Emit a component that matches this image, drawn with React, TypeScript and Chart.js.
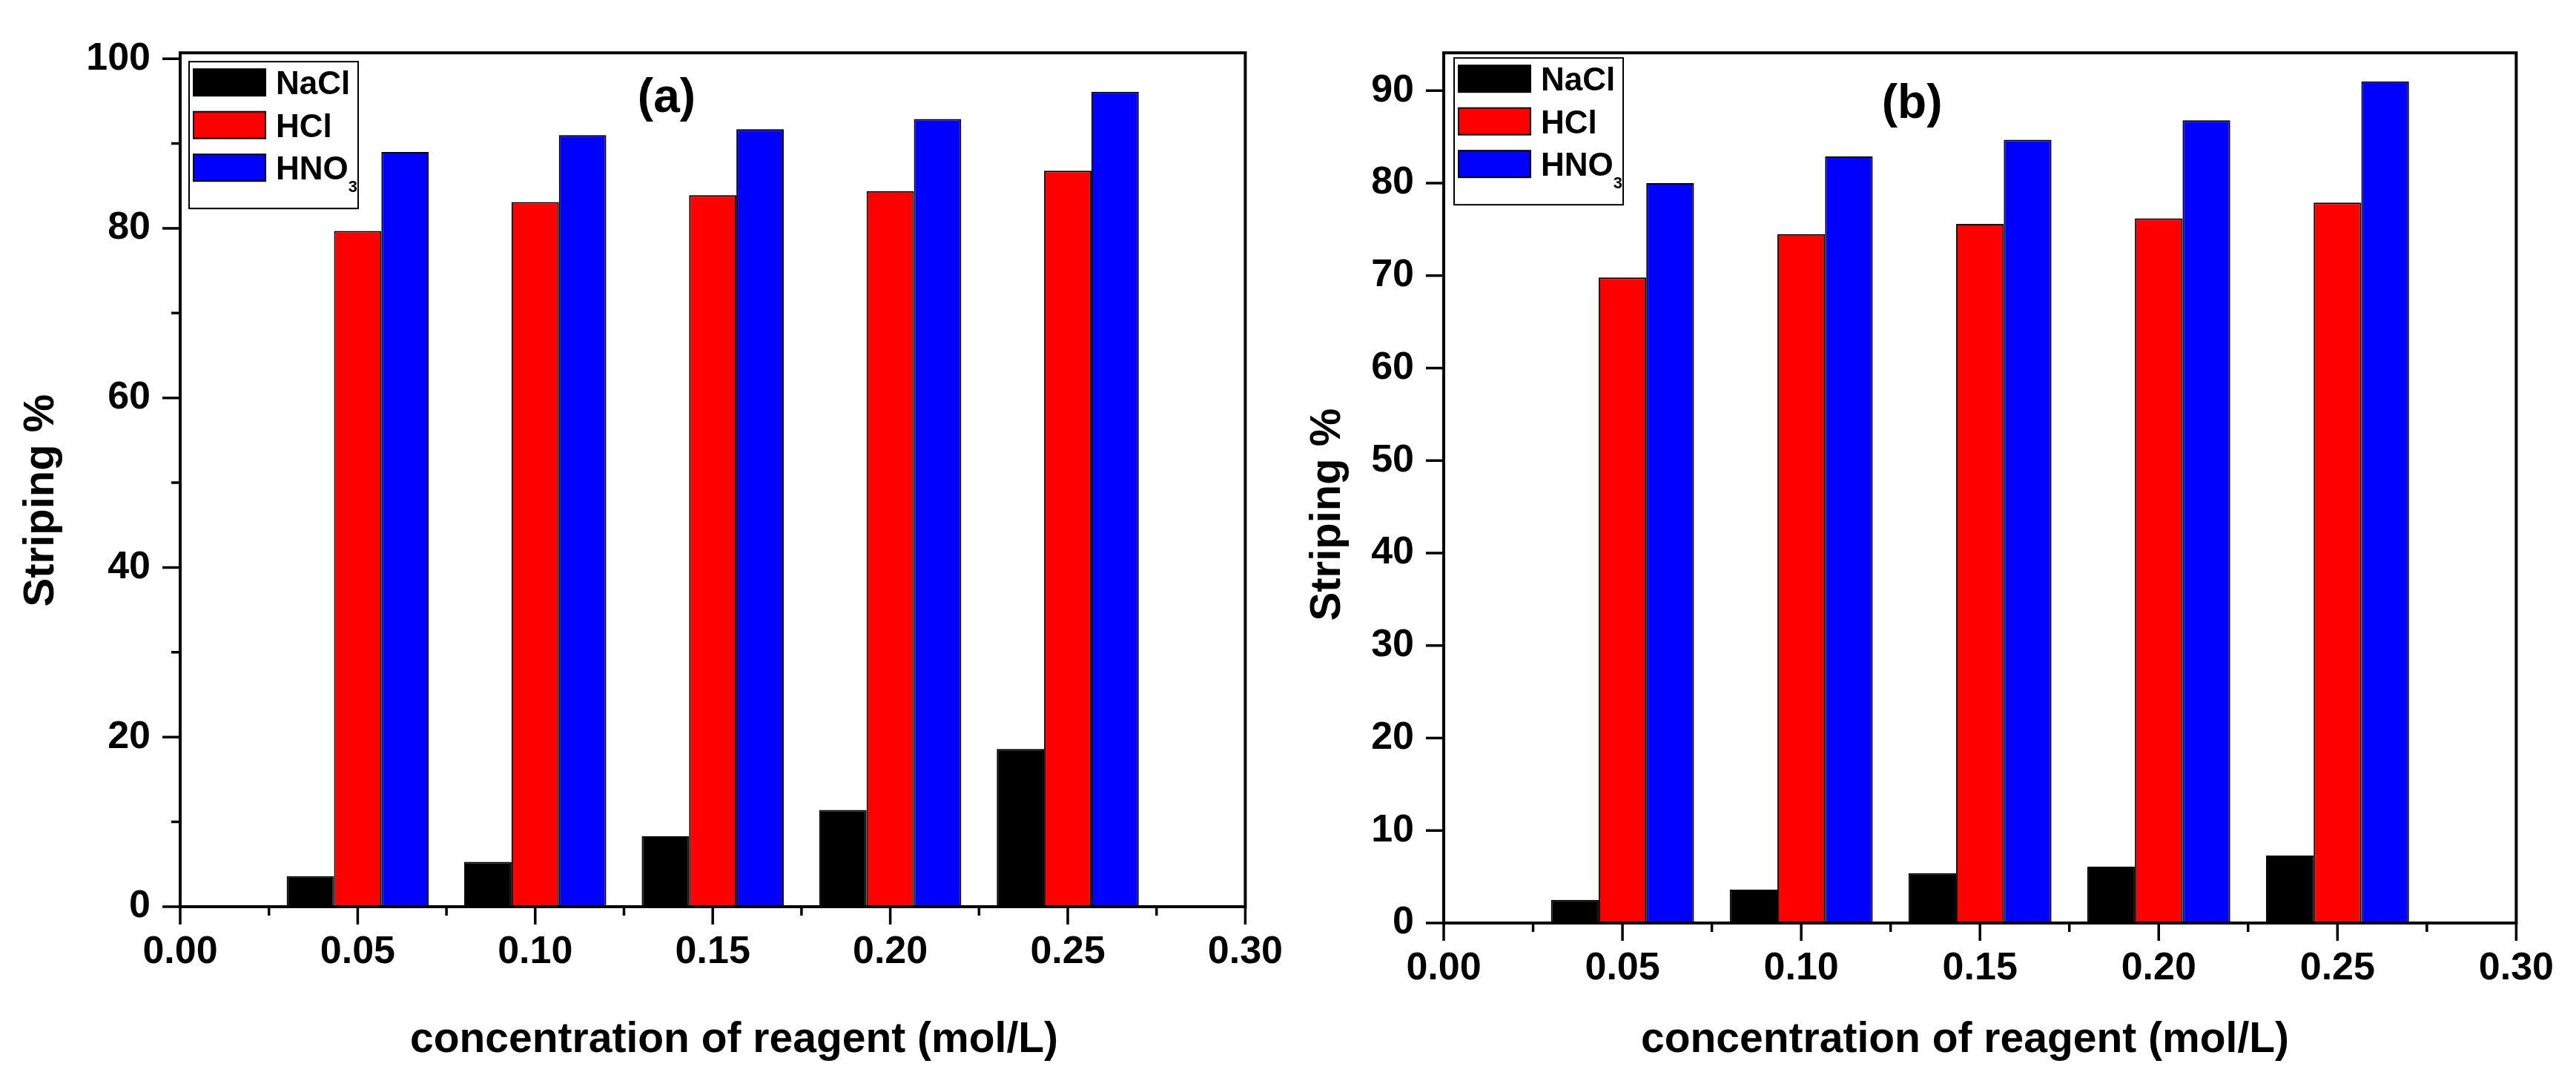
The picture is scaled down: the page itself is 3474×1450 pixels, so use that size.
import React, { useEffect, useRef } from "react";
import { Chart, registerables } from "chart.js";

Chart.register(...registerables);

// ---------- data ----------
const concentrations = [0.05, 0.1, 0.15, 0.2, 0.25];
const seriesNames = ["NaCl", "HCl", "HNO3"];
const seriesColors = ["#000000", "#ff0000", "#0000ff"];

const naclA = [3.6, 5.3, 8.3, 11.4, 18.6];
const hclA = [79.7, 83.1, 83.9, 84.4, 86.8];
const hno3A = [89.0, 91.0, 91.7, 92.9, 96.1];

const naclB = [2.5, 3.6, 5.4, 6.1, 7.3];
const hclB = [69.8, 74.5, 75.6, 76.2, 77.9];
const hno3B = [80.0, 82.9, 84.7, 86.8, 91.0];

const panelLabels = ["(a)", "(b)"];
const yAxisTitle = "Striping %";
const xAxisTitle = "concentration of reagent (mol/L)";

const FONT = "'Liberation Sans', Arial, Helvetica, sans-serif";

type PanelCfg = {
  canvasLeft: number;
  canvasWidth: number;
  series: number[][];
  yMax: number;
  yStep: number;
  yLabelStep: number;
  padding: { left: number; right: number; top: number; bottom: number };
  label: string;
  labelAt: [number, number];
  legendOffset: [number, number];
  yTitleX: number;
  yTitleY: number;
  xTitleX: number;
  xTitleY: number;
};

const panels: PanelCfg[] = [
  {
    canvasLeft: 0,
    canvasWidth: 1760,
    series: [naclA, hclA, hno3A],
    yMax: 100.7,
    yStep: 10,
    yLabelStep: 20,
    padding: { left: 93, right: 71, top: 45, bottom: 127 },
    label: panelLabels[0],
    labelAt: [0.137, 95.3],
    legendOffset: [12, 12],
    yTitleX: 72,
    yTitleY: 675,
    xTitleX: 990,
    xTitleY: 1419,
  },
  {
    canvasLeft: 1760,
    canvasWidth: 1714,
    series: [naclB, hclB, hno3B],
    yMax: 94.1,
    yStep: 5,
    yLabelStep: 10,
    padding: { left: 37, right: 77, top: 62, bottom: 105 },
    label: panelLabels[1],
    labelAt: [0.131, 88.5],
    legendOffset: [14, 7],
    yTitleX: 47,
    yTitleY: 694,
    xTitleX: 890,
    xTitleY: 1419,
  },
];

const isMultiple = (v: number, step: number) =>
  Math.abs(v / step - Math.round(v / step)) < 1e-6;

const originPlugin = {
  id: "originFrame",
  afterDatasetsDraw(chart: any, _args: any, opts: any) {
    const { ctx, chartArea: ca } = chart;
    const xs = chart.scales.x;
    const ys = chart.scales.y;
    ctx.save();
    ctx.strokeStyle = "#000";
    ctx.lineWidth = 4;
    ctx.beginPath();
    ctx.rect(ca.left, ca.top, ca.right - ca.left, ca.bottom - ca.top);
    ctx.stroke();

    ctx.lineWidth = 3.5;
    ctx.beginPath();
    ys.ticks.forEach((t: any) => {
      const py = ys.getPixelForValue(t.value);
      const len = isMultiple(t.value, opts.yLabelStep) ? 24 : 12;
      ctx.moveTo(ca.left - len, py);
      ctx.lineTo(ca.left, py);
    });
    const xv: number[] = xs.ticks.map((t: any) => t.value);
    xv.forEach((v) => {
      const px = xs.getPixelForValue(v);
      ctx.moveTo(px, ca.bottom);
      ctx.lineTo(px, ca.bottom + 24);
    });
    for (let i = 0; i < xv.length - 1; i++) {
      const px = xs.getPixelForValue((xv[i] + xv[i + 1]) / 2);
      ctx.moveTo(px, ca.bottom);
      ctx.lineTo(px, ca.bottom + 12);
    }
    ctx.stroke();
    ctx.restore();
  },
  afterDraw(chart: any, _args: any, opts: any) {
    const { ctx, chartArea: ca } = chart;
    const xs = chart.scales.x;
    const ys = chart.scales.y;
    ctx.save();

    // legend
    const bx = ca.left + opts.legendOffset[0];
    const by = ca.top + opts.legendOffset[1];
    const bw = 228;
    const bh = 198;
    ctx.fillStyle = "#fff";
    ctx.fillRect(bx, by, bw, bh);
    ctx.strokeStyle = "#000";
    ctx.lineWidth = 2;
    ctx.strokeRect(bx, by, bw, bh);
    chart.data.datasets.forEach((ds: any, i: number) => {
      const sy = by + 10 + i * 57.5;
      ctx.fillStyle = ds.backgroundColor;
      ctx.fillRect(bx + 6, sy, 97, 36);
      ctx.lineWidth = 2;
      ctx.strokeRect(bx + 6, sy, 97, 36);
      const cy = sy + 18;
      ctx.fillStyle = "#000";
      ctx.textAlign = "left";
      ctx.textBaseline = "alphabetic";
      ctx.font = `bold 44px ${FONT}`;
      const m = /^(.*?)(\d+)$/.exec(ds.label);
      const base = m ? m[1] : ds.label;
      const tx = bx + 117;
      const baseY = cy + 16;
      ctx.fillText(base, tx, baseY);
      if (m) {
        const w = ctx.measureText(base).width;
        ctx.font = `bold 22px ${FONT}`;
        ctx.fillText(m[2], tx + w, baseY + 17);
      }
    });

    // panel label
    ctx.fillStyle = "#000";
    ctx.font = `bold 64px ${FONT}`;
    ctx.textAlign = "center";
    ctx.textBaseline = "middle";
    ctx.fillText(
      opts.label,
      xs.getPixelForValue(opts.labelAt[0]),
      ys.getPixelForValue(opts.labelAt[1])
    );

    // axis titles
    ctx.font = `bold 57px ${FONT}`;
    ctx.textBaseline = "alphabetic";
    ctx.textAlign = "center";
    ctx.fillText(xAxisTitle, opts.xTitleX, opts.xTitleY);

    ctx.font = `bold 58px ${FONT}`;
    ctx.translate(opts.yTitleX, opts.yTitleY);
    ctx.rotate(-Math.PI / 2);
    ctx.fillText(yAxisTitle, 0, 0);
    ctx.restore();
  },
};

function buildConfig(p: PanelCfg): any {
  const tickFont = { family: FONT, size: 52, weight: "bold" as const };
  return {
    type: "bar",
    data: {
      datasets: seriesNames.map((name, i) => ({
        label: name,
        data: concentrations.map((c, j) => ({ x: c, y: p.series[i][j] })),
        backgroundColor: seriesColors[i],
        borderColor: "#000000",
        borderWidth: 2,
        categoryPercentage: 0.8,
        barPercentage: 1.0,
      })),
    },
    options: {
      animation: false,
      responsive: false,
      events: [],
      layout: { padding: p.padding },
      plugins: {
        legend: { display: false },
        tooltip: { enabled: false },
        originFrame: {
          yLabelStep: p.yLabelStep,
          label: p.label,
          labelAt: p.labelAt,
          legendOffset: p.legendOffset,
          yTitleX: p.yTitleX,
          yTitleY: p.yTitleY,
          xTitleX: p.xTitleX,
          xTitleY: p.xTitleY,
        },
      },
      scales: {
        x: {
          type: "linear",
          min: 0,
          max: 0.3,
          offset: false,
          grid: { display: false, drawTicks: false, offset: false },
          border: { display: false },
          ticks: {
            stepSize: 0.05,
            autoSkip: false,
            maxRotation: 0,
            minRotation: 0,
            padding: 30,
            color: "#000",
            font: tickFont,
            callback: (v: any) => Number(v).toFixed(2),
          },
          afterFit: (s: any) => {
            s.height = 100;
          },
        },
        y: {
          type: "linear",
          min: 0,
          max: p.yMax,
          grid: { display: false, drawTicks: false },
          border: { display: false },
          ticks: {
            stepSize: p.yStep,
            includeBounds: false,
            padding: 40,
            color: "#000",
            font: tickFont,
            callback: (v: any) =>
              isMultiple(Number(v), p.yLabelStep) ? String(Math.round(Number(v))) : "",
          },
          afterFit: (s: any) => {
            s.width = 150;
          },
        },
      },
    },
    plugins: [originPlugin],
  };
}

function Panel({ cfg }: { cfg: PanelCfg }) {
  const ref = useRef<HTMLCanvasElement | null>(null);
  useEffect(() => {
    if (!ref.current) return;
    const chart = new Chart(ref.current, buildConfig(cfg));
    return () => chart.destroy();
  }, [cfg]);
  return (
    <canvas
      ref={ref}
      width={cfg.canvasWidth}
      height={1450}
      style={{
        position: "absolute",
        left: cfg.canvasLeft,
        top: 0,
        width: cfg.canvasWidth,
        height: 1450,
      }}
    />
  );
}

export default function App() {
  return (
    <div
      style={{
        position: "absolute",
        left: 0,
        top: 0,
        width: 3474,
        height: 1450,
        background: "#ffffff",
        overflow: "hidden",
      }}
    >
      {panels.map((p, i) => (
        <Panel key={i} cfg={p} />
      ))}
    </div>
  );
}
